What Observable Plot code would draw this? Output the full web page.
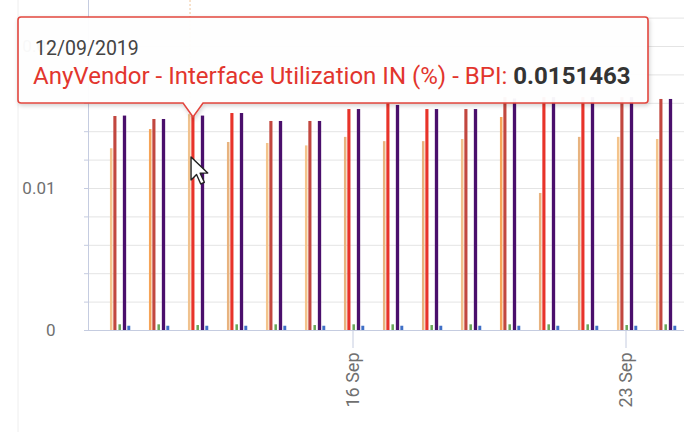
<!DOCTYPE html>
<html><head><meta charset="utf-8">
<script src="https://cdn.jsdelivr.net/npm/d3@7"></script>
<script src="https://cdn.jsdelivr.net/npm/@observablehq/plot@0.6"></script>
<style>
html,body{margin:0;padding:0;background:#fff;}
#chart{position:relative;width:684px;height:432px;overflow:hidden;font-family:Roboto,"Noto Sans",sans-serif;}
</style></head><body><div id="chart"></div>
<script>
// ---- data ----
const dates = ["2019-09-10","2019-09-11","2019-09-12","2019-09-13","2019-09-14","2019-09-15","2019-09-16",
  "2019-09-17","2019-09-18","2019-09-19","2019-09-20","2019-09-21","2019-09-22","2019-09-23","2019-09-24"];
const seriesNames = ["S1","S2","S3","BPI","S5"];
const s1Values  = [0.0128, 0.01415, 0.0152, 0.01324, 0.01317, 0.0130, 0.0136, 0.0133, 0.0133, 0.01345, 0.0150, 0.00965, 0.0136, 0.0136, 0.01345];
const s2Values  = [0.01507, 0.01486, 0.0151463, 0.01528, 0.01472, 0.01472, 0.01556, 0.0161, 0.01556, 0.01556, 0.0164, 0.0164, 0.0164, 0.0164, 0.01627];
const s3Values  = [0.0004, 0.0004, 0.00035, 0.0004, 0.0004, 0.00035, 0.0004, 0.0004, 0.00035, 0.0004, 0.0004, 0.0004, 0.0004, 0.00035, 0.0004];
const bpiValues = [0.0151, 0.01486, 0.0151, 0.01528, 0.01472, 0.01472, 0.01556, 0.01585, 0.01556, 0.01556, 0.0163, 0.0164, 0.0164, 0.0164, 0.01627];
const s5Values  = [0.0003, 0.0003, 0.0003, 0.0003, 0.0003, 0.0003, 0.0003, 0.0003, 0.0003, 0.0003, 0.0003, 0.0003, 0.0003, 0.0003, 0.0003];
const yLabelTicks = [0, 0.01, 0.02];
const xTickDates = ["2019-09-16", "2019-09-23"];
const xTickLabels = ["16 Sep", "23 Sep"];
const tipDate = "12/09/2019";
const tipLabel = "AnyVendor - Interface Utilization IN (%) - BPI: ";
const tipDay = "2019-09-12";
const tipValue = 0.0151463;

// ---- styles ----
const s1Tone = ["#f4c48c","#f6a457","#f0c28e","#e8b37f","#f4c48c","#f4c48c","#e8b37f","#e8b37f","#e8b37f","#f0c28e","#f6a457","#e8b37f","#e8b37f","#f4c48c","#f4c48c"];
const s2Tone = ["#c2473f","#c2473f","#e8332a","#e8332a","#c2473f","#c2473f","#e8332a","#e8332a","#e8332a","#c2473f","#c2473f","#e8332a","#e8332a","#c2473f","#c2473f"];
const seriesStyle = {
  S1:  {dx: -7.3, w: 2.8},
  S2:  {dx: -3.6, w: 3.4},
  S3:  {dx: 1.2,  w: 2.8, color: "#6aa65a"},
  BPI: {dx: 6.0,  w: 3.6, color: "#4a0f6c"},
  S5:  {dx: 10.3, w: 3.2, color: "#3f6fc6"}
};

const valuesBySeries = {S1: s1Values, S2: s2Values, S3: s3Values, BPI: bpiValues, S5: s5Values};
const rows = [];
seriesNames.forEach(s => dates.forEach((d, i) => rows.push({
  date: d, series: s, value: valuesBySeries[s][i],
  color: s === "S1" ? s1Tone[i] : s === "S2" ? s2Tone[i] : seriesStyle[s].color
})));

const xRange = [96.4, 685.6];
const band = (xRange[1] - xRange[0]) / dates.length;
const minorTicks = d3.range(0, 0.0221, 0.002);
const axisColor = "#c5cce0";

const barMarks = seriesNames.map(s => {
  const st = seriesStyle[s];
  const inset = (band - st.w) / 2;
  return Plot.barY(rows.filter(r => r.series === s), {
    x: "date", y: "value", fill: "color", dx: st.dx, insetLeft: inset, insetRight: inset
  });
});

const plot = Plot.plot({
  width: 684, height: 432,
  marginLeft: 88, marginRight: 0, marginTop: 0, marginBottom: 102,
  style: {fontFamily: "Roboto, 'Noto Sans', sans-serif", background: "transparent"},
  x: {type: "band", domain: dates, range: xRange, padding: 0, label: null},
  y: {domain: [0, 330 / 14200], label: null},
  marks: [
    Plot.gridY(minorTicks, {stroke: "#e4e4e4", strokeOpacity: 1}),
    Plot.axisY(minorTicks, {tickSize: 4, tickFormat: () => "", stroke: axisColor, label: null}),
    Plot.axisY(yLabelTicks, {tickSize: 0, tickPadding: 33, fontSize: 17, fill: "#707070", label: null,
      tickFormat: d => d === 0 ? "0" : String(d)}),
    Plot.axisX(xTickDates, {tickSize: 18, tickPadding: 4, tickRotate: -90, stroke: axisColor, label: null,
      fontSize: 18, fill: "#707070", tickFormat: d => xTickLabels[xTickDates.indexOf(d)]}),
    Plot.frame({anchor: "left", stroke: axisColor}),
    ...barMarks,
    Plot.ruleY([0], {stroke: axisColor})
  ]
});
document.getElementById("chart").appendChild(plot);

// ---- tooltip overlay (hover state in the reference) ----
const svg = d3.select(plot);
const xs = plot.scale("x"), ys = plot.scale("y");
const px = xs.apply(tipDay) + band / 2 + seriesStyle.S2.dx;
const py = ys.apply(tipValue) + 2;
svg.append("line").attr("x1", 18).attr("x2", 18).attr("y1", 0).attr("y2", 432)
  .attr("stroke", "#eeeeee");
// crosshair
svg.append("line").attr("x1", px - 3).attr("x2", px - 3).attr("y1", 0).attr("y2", py)
  .attr("stroke", "#f0c69a").attr("stroke-dasharray", "2,2");
const defs = svg.append("defs");
const f = defs.append("filter").attr("id", "shadow").attr("x", "-5%").attr("y", "-20%").attr("width", "110%").attr("height", "150%");
f.append("feDropShadow").attr("dx", 1).attr("dy", 2).attr("stdDeviation", 2).attr("flood-color", "#000").attr("flood-opacity", 0.18);
const x0 = 18, x1 = 648, y0 = 17, y1 = 103, r = 3, hw = 10;
const tip = svg.append("g").attr("text-anchor", "start");
tip.append("path")
  .attr("d", `M${x0 + r},${y0}H${x1 - r}Q${x1},${y0} ${x1},${y0 + r}V${y1 - r}Q${x1},${y1} ${x1 - r},${y1}` +
    `H${px + hw}L${px},${py}L${px - hw},${y1}H${x0 + r}Q${x0},${y1} ${x0},${y1 - r}V${y0 + r}Q${x0},${y0} ${x0 + r},${y0}Z`)
  .attr("fill", "rgba(255,255,255,0.95)").attr("stroke", "#e2473f").attr("stroke-width", 1.6)
  .attr("filter", "url(#shadow)");
tip.append("text").attr("x", 35).attr("y", 55).attr("font-size", 19.5).attr("fill", "#444")
  .attr("text-anchor", "start").attr("font-family", "Roboto, sans-serif").text(tipDate);
const t2 = tip.append("text").attr("x", 33).attr("y", 84).attr("font-size", 19)
  .attr("text-anchor", "start").attr("font-family", "Roboto, sans-serif");
t2.append("tspan").attr("fill", "#e2352d").text(tipLabel);
t2.append("tspan").attr("fill", "#333").attr("font-weight", "bold").text(d3.format(".7f")(tipValue).replace(/0+$/, ""));
const len = t2.node().getComputedTextLength();
if (len > 0) t2.attr("font-size", 19 * 598 / len);
// mouse cursor arrow
const cx = px - 2, cy = ys.apply(tipValue) + 42;
tip.append("path")
  .attr("d", `M${cx},${cy}l0,23l5.5,-5.5l4.2,9.5l3.6,-1.6l-4.2,-9.2l7.6,0Z`)
  .attr("fill", "#fff").attr("stroke", "#222").attr("stroke-width", 1.4).attr("stroke-linejoin", "round");
</script></body></html>
